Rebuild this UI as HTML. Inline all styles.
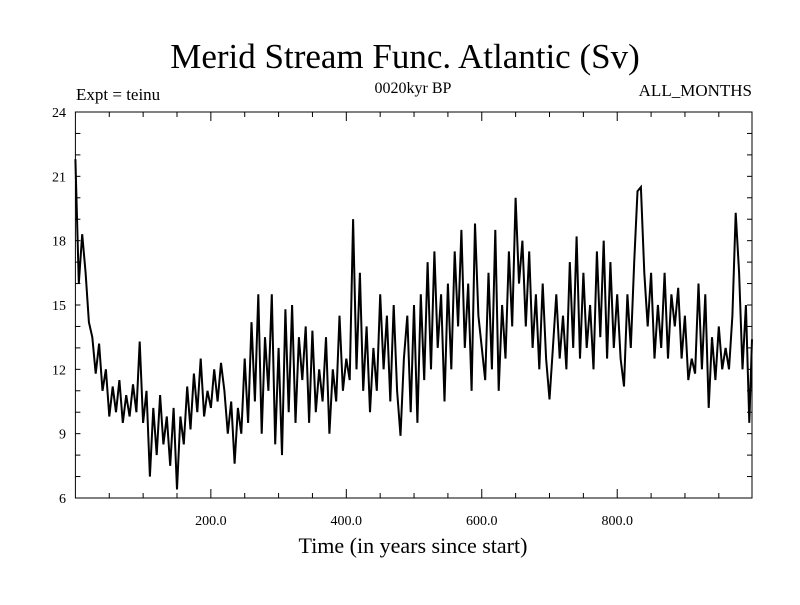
<!DOCTYPE html>
<html><head><meta charset="utf-8"><style>
body{margin:0;background:#fff;}
svg text{font-family:"Liberation Serif",serif;fill:#000;}
</style></head><body>
<svg id="chart" width="800" height="600" xmlns="http://www.w3.org/2000/svg">
<rect width="800" height="600" fill="#fff"/>
<text x="405" y="68" font-size="35" text-anchor="middle">Merid Stream Func. Atlantic (Sv)</text>
<text x="76" y="100" font-size="17">Expt = teinu</text>
<text x="413" y="93" font-size="16" text-anchor="middle">0020kyr BP</text>
<text x="752" y="96" font-size="17" text-anchor="end">ALL_MONTHS</text>
<text x="413" y="553" font-size="22" text-anchor="middle">Time (in years since start)</text>
<g id="axes"></g>
<g id="series"></g>
</svg>
<script>
const years=[];
const values=[21.8,16.0,18.3,16.5,14.2,13.5,11.8,13.2,11.0,12.0,9.8,11.2,10.0,11.5,9.5,10.8,9.8,11.3,10.0,13.3,
9.5,11.0,7.0,10.2,8.0,10.8,8.5,9.8,7.5,10.2,6.4,9.8,8.5,11.2,9.2,11.8,10.0,12.5,9.8,11.0,
10.2,12.0,10.5,12.3,11.0,9.0,10.5,7.6,10.2,9.0,12.5,9.5,14.2,10.5,15.5,9.0,13.5,11.0,15.5,8.5,
13.0,8.0,14.8,10.0,15.0,9.5,13.5,11.5,14.0,9.5,13.8,10.0,12.0,10.5,13.5,9.0,12.0,10.5,14.5,11.0,
12.5,11.5,19.0,12.0,16.5,11.0,14.0,10.0,13.0,11.0,15.5,12.0,14.5,10.5,15.0,11.0,8.9,12.5,14.5,10.0,
15.0,9.5,15.5,11.5,17.0,12.0,17.5,13.0,15.5,10.5,16.0,12.0,17.5,14.0,18.5,13.0,16.0,11.0,18.8,14.5,
13.0,11.5,16.5,12.0,18.5,11.0,15.0,12.5,17.5,14.0,20.0,16.0,18.0,14.0,17.5,13.0,15.5,12.0,16.0,12.5,
10.6,13.0,15.5,12.5,14.5,12.0,17.0,13.0,18.2,12.5,16.5,13.0,15.0,12.0,17.5,13.5,18.0,12.5,17.0,13.0,
15.5,12.5,11.2,15.5,13.0,17.0,20.3,20.5,16.5,14.0,16.5,12.5,15.0,13.0,16.5,12.5,15.5,14.0,15.8,12.5,
14.5,11.5,12.5,11.8,16.0,12.0,15.5,10.2,13.5,11.5,14.0,12.0,13.0,12.0,14.5,19.3,16.5,12.0,15.0,9.5,13.4];
for(let i=0;i<values.length-1;i++) years.push(i*5);
years.push(999);
const yTickVals=[6,9,12,15,18,21,24];
const xTickVals=[200,400,600,800];
const xTickLabels=["200.0","400.0","600.0","800.0"];

const L=75.4,R=752,T=112,B=498,X0=0,X1=999,Y0=6,Y1=24;
const xs=v=>L+(v-X0)/(X1-X0)*(R-L);
const ys=v=>B-(v-Y0)/(Y1-Y0)*(B-T);
const NS="http://www.w3.org/2000/svg";
const axes=document.getElementById('axes');
function mk(tag,attrs,parent){const e=document.createElementNS(NS,tag);for(const k in attrs)e.setAttribute(k,attrs[k]);parent.appendChild(e);return e;}
const frame=mk('rect',{x:L,y:T,width:R-L,height:B-T,fill:'none',stroke:'#000','stroke-width':1},axes);


for(let v=50;v<X1;v+=50){
  const len=(v%200===0)?9:5;
  const t1=mk('line',{x1:xs(v),x2:xs(v),y1:B,y2:B-len,stroke:'#000'},axes);
  
  
  const t2=mk('line',{x1:xs(v),x2:xs(v),y1:T,y2:T+len,stroke:'#000'},axes);
  
  
}
for(let v=Y0+1;v<Y1;v++){
  const len=5;
  const t1=mk('line',{x1:L,x2:L+len,y1:ys(v),y2:ys(v),stroke:'#000'},axes);
  
  
  const t2=mk('line',{x1:R,x2:R-len,y1:ys(v),y2:ys(v),stroke:'#000'},axes);
  
  
}
xTickVals.forEach((v,i)=>{
  const t=mk('text',{x:xs(v),y:525,'font-size':14,'text-anchor':'middle'},axes);
  t.textContent=xTickLabels[i];
  
  
});
yTickVals.forEach(v=>{
  const t=mk('text',{x:66,y:ys(v)+5,'font-size':14,'text-anchor':'end'},axes);
  t.textContent=String(v);
  
  
});
const pts=values.map((v,i)=>xs(years[i]).toFixed(1)+','+ys(v).toFixed(1)).join(' ');
const line=mk('polyline',{points:pts,fill:'none',stroke:'#000','stroke-width':2,'stroke-linejoin':'miter'},document.getElementById('series'));


</script>
</body></html>
